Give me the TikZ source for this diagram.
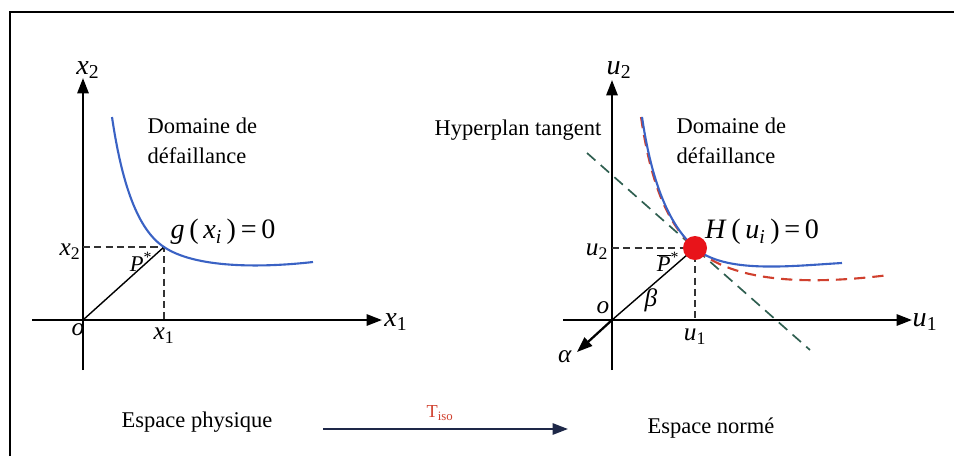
\documentclass[tikz,border=0pt]{standalone}
\usepackage{fontspec}
\setmainfont{Liberation Serif}
\usetikzlibrary{arrows.meta}
\definecolor{curveblue}{HTML}{3A62C4}
\definecolor{curvered}{HTML}{D0402E}
\definecolor{tangentgreen}{HTML}{2F5F50}
\definecolor{dotred}{HTML}{E8141A}
\definecolor{mapnavy}{HTML}{1E2848}
\newcommand{\ilab}[2]{\textit{#1}\textsubscript{#2}}
\tikzset{
  frameline/.style={black, line width=1.5pt},
  axisline/.style={black, line width=1.7pt, -{Triangle[length=11pt,width=8pt]}},
  plainaxis/.style={black, line width=1.7pt},
  guide/.style={black!80, dashed, dash pattern=on 5pt off 3pt, line width=0.9pt},
  radius/.style={black, line width=1pt},
  limitblue/.style={curveblue, line width=1.5pt},
  limitred/.style={curvered, dashed, dash pattern=on 8pt off 5pt, line width=1.5pt},
  tangent/.style={tangentgreen, dashed, dash pattern=on 8pt off 5pt, line width=1.2pt},
  mapping/.style={mapnavy, line width=1.6pt, -{Triangle[length=11pt,width=8pt]}},
  labelnode/.style={inner sep=1pt, font=\fontsize{16}{21}\selectfont},
  ticknode/.style={inner sep=1pt, font=\fontsize{18}{21}\selectfont},
  mathnode/.style={inner sep=1pt, font=\fontsize{20}{22}\selectfont}
}
\begin{document}
\begin{tikzpicture}[x=0.025cm, y=-0.025cm]
  \useasboundingbox (0,0) rectangle (954,456);
  \draw[frameline] (10,456) -- (10,12) -- (954,12);

  % espace physique
  \coordinate (ox) at (83,320);
  \coordinate (px) at (164,247);
  \coordinate (x1end) at (382,320);
  \coordinate (x1start) at (32,320);
  \coordinate (x2end) at (83,78);
  \coordinate (x2start) at (83,370);
  \coordinate (x1foot) at (164,320);
  \coordinate (x2foot) at (83,247);
  \draw[plainaxis] (x2start) -- (ox);
  \draw[axisline] (ox) -- (x2end);
  \draw[plainaxis] (x1start) -- (ox);
  \draw[axisline] (ox) -- (x1end);
  \draw[guide] (x2foot) -- (px) -- (x1foot);
  \draw[radius] (ox) -- (px);
  \draw[limitblue] (112,117) .. controls (122,185) and (138,230) .. (px)
    .. controls (195,268) and (260,268) .. (313,262);
  \node[mathnode] (x1lab) at (396,322) {\ilab{x}{1}};
  \node[mathnode] (x2lab) at (88,70) {\ilab{x}{2}};
  \node[ticknode] (olx) at (78,330) {\textit{o}};
  \node[ticknode] (x2tick) at (70,252) {\ilab{x}{2}};
  \node[ticknode] (x1tick) at (164,336) {\ilab{x}{1}};
  \node[labelnode] (pstar) at (141,262) {\textit{P}\textsuperscript{*}};
  \node[labelnode, anchor=west, align=left] (domx) at (146,141) {Domaine de\\défaillance};
  \node[mathnode] (gx) at (223,232) {\textit{g}\,(\,\ilab{x}{\textit{i}}\,)\,=\,0};

  % espace norme
  \coordinate (ou) at (612,320);
  \coordinate (pu) at (695,248);
  \coordinate (u1end) at (912,320);
  \coordinate (u1start) at (563,320);
  \coordinate (u2end) at (612,80);
  \coordinate (u2start) at (612,370);
  \coordinate (u1foot) at (695,320);
  \coordinate (u2foot) at (612,248);
  \coordinate (alphaend) at (577,352);
  \coordinate (tanA) at (587,153);
  \coordinate (tanB) at (810,350);
  \draw[plainaxis] (u2start) -- (ou);
  \draw[axisline] (ou) -- (u2end);
  \draw[plainaxis] (u1start) -- (ou);
  \draw[axisline] (ou) -- (u1end);
  \draw[guide] (u2foot) -- (pu) -- (u1foot);
  \draw[radius] (ou) -- (pu);
  \draw[radius, line width=1.6pt, -{Triangle[length=11pt,width=8pt]}] (ou) -- (alphaend);
  \draw[tangent] (tanA) -- (tanB);
  \draw[limitred] (641,117) .. controls (651,185) and (668,225) .. (pu)
    .. controls (733,283) and (810,285) .. (889,275);
  \draw[limitblue] (642,117) .. controls (652,185) and (670,226) .. (pu)
    .. controls (725,274) and (790,266) .. (842,263);
  \fill[dotred] (pu) circle (12);
  \node[mathnode] (u1lab) at (925,322) {\ilab{u}{1}};
  \node[mathnode] (u2lab) at (619,70) {\ilab{u}{2}};
  \node[ticknode] (olu) at (603,308) {\textit{o}};
  \node[ticknode] (u2tick) at (597,252) {\ilab{u}{2}};
  \node[ticknode] (u1tick) at (695,337) {\ilab{u}{1}};
  \node[labelnode] (pbar) at (668,262) {$\overline{\hbox{\itshape P}}$\textsuperscript{*}};
  \node[ticknode] (betalab) at (651,300) {\textit{β}};
  \node[ticknode] (alphalab) at (565,357) {\textit{α}};
  \node[labelnode] (hyper) at (518,130) {Hyperplan tangent};
  \node[labelnode, anchor=west, align=left] (domu) at (675,141) {Domaine de\\défaillance};
  \node[mathnode] (hu) at (762,232) {\textit{H}\,(\,\ilab{u}{\textit{i}}\,)\,=\,0};

  % transformation
  \node[labelnode] (phys) at (197,422) {Espace physique};
  \node[labelnode] (norm) at (711,428) {Espace normé};
  \coordinate (mapA) at (323,429);
  \coordinate (mapB) at (568,429);
  \draw[mapping] (mapA) -- (mapB);
  \node[labelnode, text=curvered, font=\fontsize{13}{15}\selectfont] (tiso) at (440,413) {T\textsubscript{iso}};
\end{tikzpicture}
\end{document}
